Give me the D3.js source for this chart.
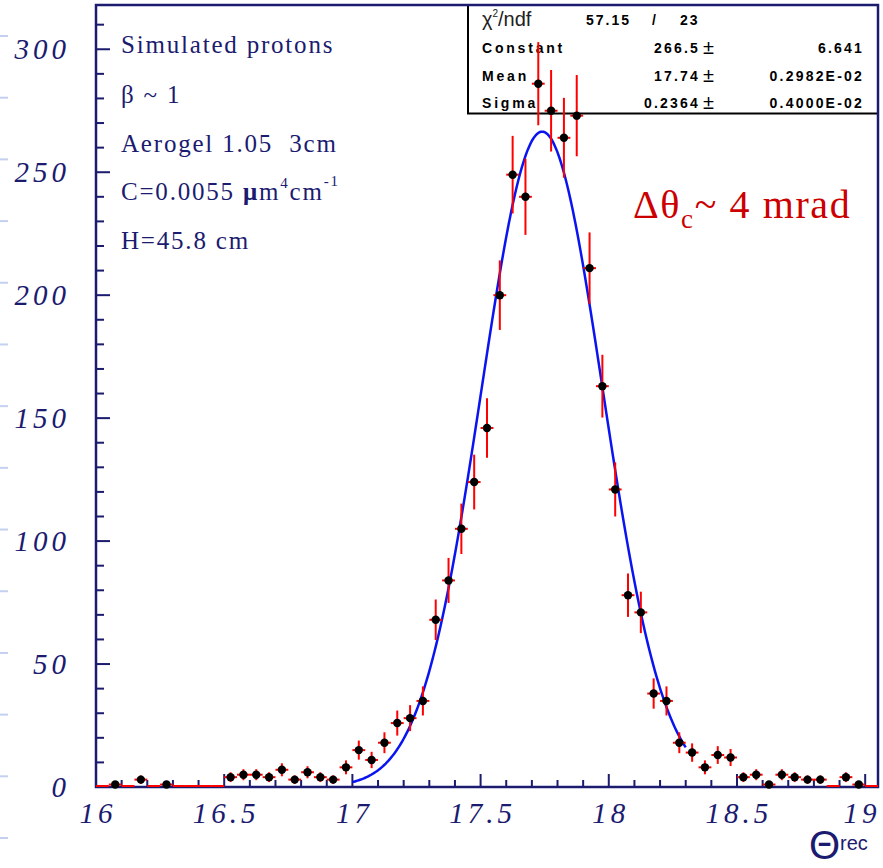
<!DOCTYPE html>
<html>
<head>
<meta charset="utf-8">
<script src="https://cdn.jsdelivr.net/npm/d3@7"></script>
<style>
  html, body { margin: 0; padding: 0; background: #ffffff; }
  svg { display: block; }
</style>
</head>
<body>
<div id="chart"></div>
<script>
// ---------------- DATA ----------------
const binCenters = [
  16.025, 16.075, 16.125, 16.175, 16.225, 16.275, 16.325, 16.375, 16.425, 16.475,
  16.525, 16.575, 16.625, 16.675, 16.725, 16.775, 16.825, 16.875, 16.925, 16.975,
  17.025, 17.075, 17.125, 17.175, 17.225, 17.275, 17.325, 17.375, 17.425, 17.475,
  17.525, 17.575, 17.625, 17.675, 17.725, 17.775, 17.825, 17.875, 17.925, 17.975,
  18.025, 18.075, 18.125, 18.175, 18.225, 18.275, 18.325, 18.375, 18.425, 18.475,
  18.525, 18.575, 18.625, 18.675, 18.725, 18.775, 18.825, 18.875, 18.925, 18.975,
  19.025
];
const counts = [
  0, 1, 0, 3, 0, 1, 0, 0, 0, 0,
  4, 5, 5, 4, 7, 3, 6, 4, 3, 8,
  15, 11, 18, 26, 28, 35, 68, 84, 105, 124,
  146, 200, 249, 240, 286, 275, 264, 273, 211, 163,
  121, 78, 71, 38, 35, 18, 14, 8, 13, 12,
  4, 5, 1, 5, 4, 3, 3, 0, 4, 1,
  0
];
const binWidth = 0.05;
const xTickLabels = ["16", "16.5", "17", "17.5", "18", "18.5", "19"];
const yTickLabels = ["0", "50", "100", "150", "200", "250", "300"];
const fitConstant = 266.5;
const fitMean = 17.74;
const fitSigma = 0.2364;
const fitRange = [17.0, 18.3];
const statsRows = [
  ["Constant", "266.5", "6.641"],
  ["Mean", "17.74", "0.2982E-02"],
  ["Sigma", "0.2364", "0.4000E-02"]
];
const chiSquare = "57.15";
const ndf = "23";
const infoLines = ["Simulated protons", "β ~ 1", "Aerogel 1.05\u00a0\u00a03cm", "C", "H=45.8 cm"];

// ---------------- LAYOUT ----------------
const W = 883, H = 868;
const navy = "#1b1b70";
const svg = d3.select("#chart").append("svg").attr("width", W).attr("height", H);

const x = d3.scaleLinear().domain([16, 19.05]).range([96, 878]);
const y = d3.scaleLinear().domain([0, 318]).range([787, 5]);

// light decoration dashes at far left
const deco = d3.scaleLinear().domain([0, 13]).range([36, 838]);
svg.append("g").selectAll("line").data(d3.range(14)).join("line")
  .attr("x1", 0).attr("x2", 8)
  .attr("y1", d => deco(d)).attr("y2", d => deco(d))
  .attr("stroke", "#c3d0f0").attr("stroke-width", 2);

// stats box (drawn under data)
const bx0 = 468, bx1 = 878, by0 = 5, by1 = 113.5;
svg.append("rect").attr("x", bx0).attr("y", by0).attr("width", bx1 - bx0).attr("height", by1 - by0)
  .attr("fill", "#ffffff").attr("stroke", "#000").attr("stroke-width", 2);

const st = svg.append("g").attr("font-family", "'Liberation Sans', Arial, sans-serif").attr("fill", "#000");
st.append("text").attr("x", 482).attr("y", 26).attr("font-size", 20).attr("font-weight", 300)
  .attr("fill", "#222")
  .html('χ<tspan dy="-9" font-size="10">2</tspan><tspan dy="9">/ndf</tspan>');
st.append("text").attr("x", 586).attr("y", 25).attr("font-size", 14).attr("font-weight", "bold")
  .attr("letter-spacing", 2).text(chiSquare);
st.append("text").attr("x", 652).attr("y", 25).attr("font-size", 14).attr("font-weight", "bold").text("/");
st.append("text").attr("x", 680).attr("y", 25).attr("font-size", 14).attr("font-weight", "bold")
  .attr("letter-spacing", 2).text(ndf);
const rowY = [53, 80.5, 108];
statsRows.forEach((r, i) => {
  st.append("text").attr("x", 482).attr("y", rowY[i]).attr("font-size", 14).attr("font-weight", "bold")
    .attr("letter-spacing", 2.8).text(r[0]);
  st.append("text").attr("x", 700).attr("y", rowY[i]).attr("font-size", 14).attr("font-weight", "bold")
    .attr("letter-spacing", 2.2).attr("text-anchor", "end").text(r[1]);
  st.append("text").attr("x", 703).attr("y", rowY[i] + 1).attr("font-size", 20).attr("font-weight", 300)
    .text("±");
  st.append("text").attr("x", 864).attr("y", rowY[i]).attr("font-size", 14).attr("font-weight", "bold")
    .attr("letter-spacing", 2.2).attr("text-anchor", "end").text(r[2]);
});

// frame
svg.append("rect").attr("x", 96).attr("y", 5).attr("width", 782).attr("height", 782)
  .attr("fill", "none").attr("stroke", navy).attr("stroke-width", 2.5);

// x axis ticks (inside, upward)
const xMinor = d3.range(0, 31).map(i => 16 + i * 0.1);
svg.append("g").selectAll("line").data(xMinor).join("line")
  .attr("x1", d => x(d)).attr("x2", d => x(d))
  .attr("y1", 787).attr("y2", (d, i) => i % 5 === 0 ? 774 : 780)
  .attr("stroke", navy).attr("stroke-width", 2);
// y axis ticks (inside, rightward)
const yMinor = d3.range(0, 32).map(i => i * 10);
svg.append("g").selectAll("line").data(yMinor).join("line")
  .attr("x1", 96).attr("x2", (d, i) => i % 5 === 0 ? 110 : 104)
  .attr("y1", d => y(d)).attr("y2", d => y(d))
  .attr("stroke", navy).attr("stroke-width", 2);

// tick labels
const lblFont = "'Liberation Serif', 'Times New Roman', serif";
svg.append("g").selectAll("text").data(yTickLabels).join("text")
  .attr("x", 70).attr("y", d => y(+d) + 10)
  .attr("text-anchor", "end").attr("font-family", lblFont).attr("font-style", "italic")
  .attr("font-size", 29).attr("letter-spacing", 4).attr("fill", navy)
  .text(d => d);
svg.append("g").selectAll("text").data(xTickLabels).join("text")
  .attr("x", d => Math.min(x(+d) + 2, 862)).attr("y", 823)
  .attr("text-anchor", "middle").attr("font-family", lblFont).attr("font-style", "italic")
  .attr("font-size", 29).attr("letter-spacing", 4).attr("fill", navy)
  .text(d => d);

// axis title
svg.append("text").attr("x", 809).attr("y", 859).attr("font-family", "'Liberation Sans', Arial, sans-serif")
  .attr("font-size", 40).attr("fill", navy).text("Θ");
svg.append("text").attr("x", 840).attr("y", 850).attr("font-family", "'Liberation Sans', Arial, sans-serif")
  .attr("font-size", 20).attr("fill", navy).text("rec");

// info text
const info = svg.append("g").attr("font-family", lblFont).attr("fill", navy).attr("font-size", 25).attr("letter-spacing", 1.8);
const infoY = [53, 103, 152, 200, 249];
infoLines.forEach((t, i) => {
  if (t === "C") {
    info.append("text").attr("x", 121).attr("y", infoY[i])
      .html('C=0.0055 <tspan font-weight="bold">μ</tspan>m<tspan dy="-12" font-size="15">4</tspan><tspan dy="12">cm</tspan><tspan dy="-14" font-size="15">-1</tspan>');
  } else {
    info.append("text").attr("x", 121).attr("y", infoY[i]).text(t);
  }
});

// red annotation
svg.append("text").attr("x", 633).attr("y", 218).attr("font-family", lblFont)
  .attr("font-size", 40).attr("fill", "#cc0000").attr("letter-spacing", 1.6)
  .html('Δθ<tspan dy="10" font-size="27">c</tspan><tspan dy="-10">~ 4 mrad</tspan>');

// fit curve
const fitXs = d3.range(fitRange[0], fitRange[1] + 1e-9, 0.005);
const gauss = v => fitConstant * Math.exp(-0.5 * Math.pow((v - fitMean) / fitSigma, 2));
svg.append("path").datum(fitXs)
  .attr("d", d3.line().x(d => x(d)).y(d => y(gauss(d))))
  .attr("fill", "none").attr("stroke", "#0a14f0").attr("stroke-width", 2.5);

// data: error bars + markers
const data = binCenters.map((c, i) => ({ c, n: counts[i] }));
const g = svg.append("g");
g.selectAll("line.h").data(data).join("line").attr("class", "h")
  .attr("x1", d => x(d.c - binWidth / 2)).attr("x2", d => x(d.c + binWidth / 2))
  .attr("y1", d => y(d.n) - (d.n === 0 ? 1 : 0)).attr("y2", d => y(d.n) - (d.n === 0 ? 1 : 0))
  .attr("stroke", "#ff0000").attr("stroke-width", 2);
g.selectAll("line.v").data(data.filter(d => d.n > 0)).join("line").attr("class", "v")
  .attr("x1", d => x(d.c)).attr("x2", d => x(d.c))
  .attr("y1", d => y(d.n + Math.sqrt(d.n))).attr("y2", d => Math.min(787, y(d.n - Math.sqrt(d.n))))
  .attr("stroke", "#ff0000").attr("stroke-width", 2);
g.selectAll("circle").data(data.filter(d => d.n > 0)).join("circle")
  .attr("cx", d => x(d.c)).attr("cy", d => y(d.n)).attr("r", 4.2)
  .attr("fill", "#000");
</script>
</body>
</html>
